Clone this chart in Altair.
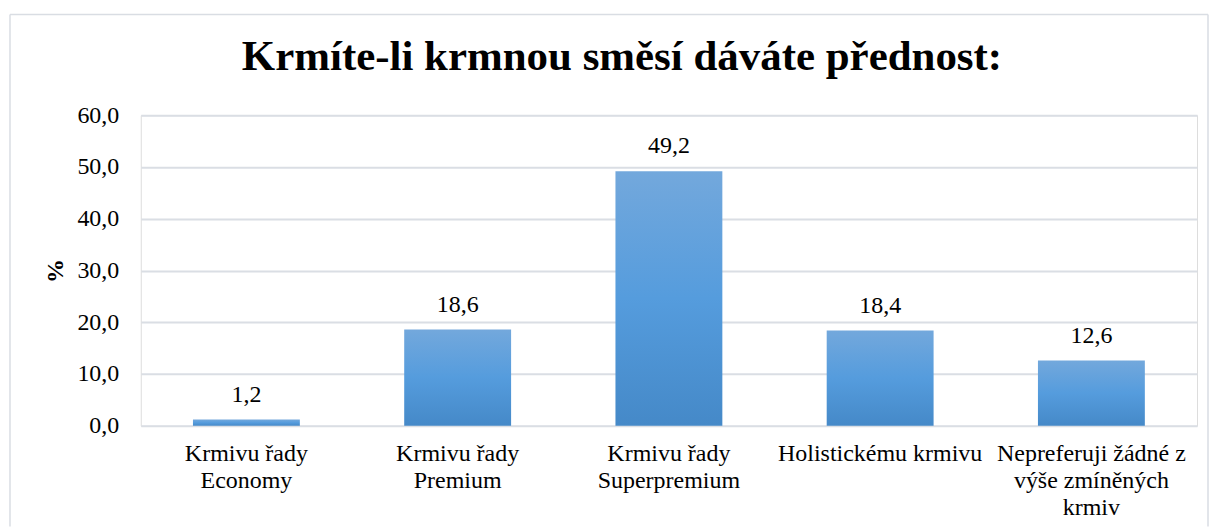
import altair as alt
import pandas as pd

categories = [
    "Krmivu řady\nEconomy",
    "Krmivu řady\nPremium",
    "Krmivu řady\nSuperpremium",
    "Holistickému krmivu",
    "Nepreferuji žádné z\nvýše zmíněných\nkrmiv",
]
values = [1.2, 18.6, 49.2, 18.4, 12.6]
title_text = "Krmíte-li krmnou směsí dáváte přednost:"
y_title = "%"

df = pd.DataFrame({"cat": categories, "val": values})

FONT = "Liberation Serif"
W, H = 1058, 311
FS = 24

base = alt.Chart(df).encode(
    x=alt.X(
        "cat:N",
        sort=categories,
        title=None,
        scale=alt.Scale(paddingInner=0.494, paddingOuter=0.247),
        axis=alt.Axis(
            labelAngle=0,
            labelExpr="split(datum.label, '\\n')",
            labelFont=FONT,
            labelFontSize=FS,
            labelColor="#000000",
            labelLineHeight=27,
            labelPadding=16,
            labelLimit=400,
            ticks=False,
            domain=False,
            grid=False,
        ),
    ),
    y=alt.Y(
        "val:Q",
        title=y_title,
        scale=alt.Scale(domain=[0, 60]),
        axis=alt.Axis(
            values=[0, 10, 20, 30, 40, 50, 60],
            labelExpr="replace(format(datum.value, '.1f'), '.', ',')",
            labelFont=FONT,
            labelFontSize=FS,
            labelColor="#000000",
            labelPadding=22,
            titleFont=FONT,
            titleFontSize=FS,
            titleFontWeight="bold",
            titleColor="#000000",
            titlePadding=9,
            ticks=False,
            domain=False,
            grid=True,
            gridColor="#dadee4",
            gridWidth=2,
        ),
    ),
)

bars = base.mark_bar(
    color=alt.Gradient(
        gradient="linear",
        x1=0, y1=0, x2=0, y2=1,
        stops=[
            alt.GradientStop(color="#73a8dc", offset=0),
            alt.GradientStop(color="#559cdd", offset=0.5),
            alt.GradientStop(color="#4589c8", offset=1),
        ],
    )
)

labels = base.mark_text(
    font=FONT, fontSize=FS, color="#000000", baseline="alphabetic", dy=-18
).encode(text=alt.Text("lbl:N")).transform_calculate(
    lbl="replace(format(datum.val, '.1f'), '.', ',')"
)

frame_src = alt.Chart(alt.Data(values=[{"b": 1}]))
frame_style = dict(stroke="#d9dde3", strokeWidth=1.5, clip=False)
left_edge = frame_src.mark_rule(**frame_style).encode(
    x=alt.value(-131), y=alt.value(-101), y2=alt.value(412)
)
right_edge = frame_src.mark_rule(**frame_style).encode(
    x=alt.value(1069), y=alt.value(-101), y2=alt.value(412)
)
top_edge = frame_src.mark_rule(**frame_style).encode(
    x=alt.value(-131), x2=alt.value(1069), y=alt.value(-101)
)

chart = (
    alt.layer(left_edge, right_edge, top_edge, bars, labels)
    .properties(
        width=W,
        height=H,
        padding={"left": 1, "top": 5, "right": 0, "bottom": 0},
        title=alt.TitleParams(
            text=title_text,
            font=FONT,
            fontSize=43,
            fontWeight="bold",
            color="#000000",
            anchor="middle",
            dx=-47,
            baseline="alphabetic",
            offset=-99,
        ),
    )
    .configure_view(stroke=None)
    .configure(background="white")
)

chart.save("out.html", embed_options={"renderer": "svg", "actions": False})
